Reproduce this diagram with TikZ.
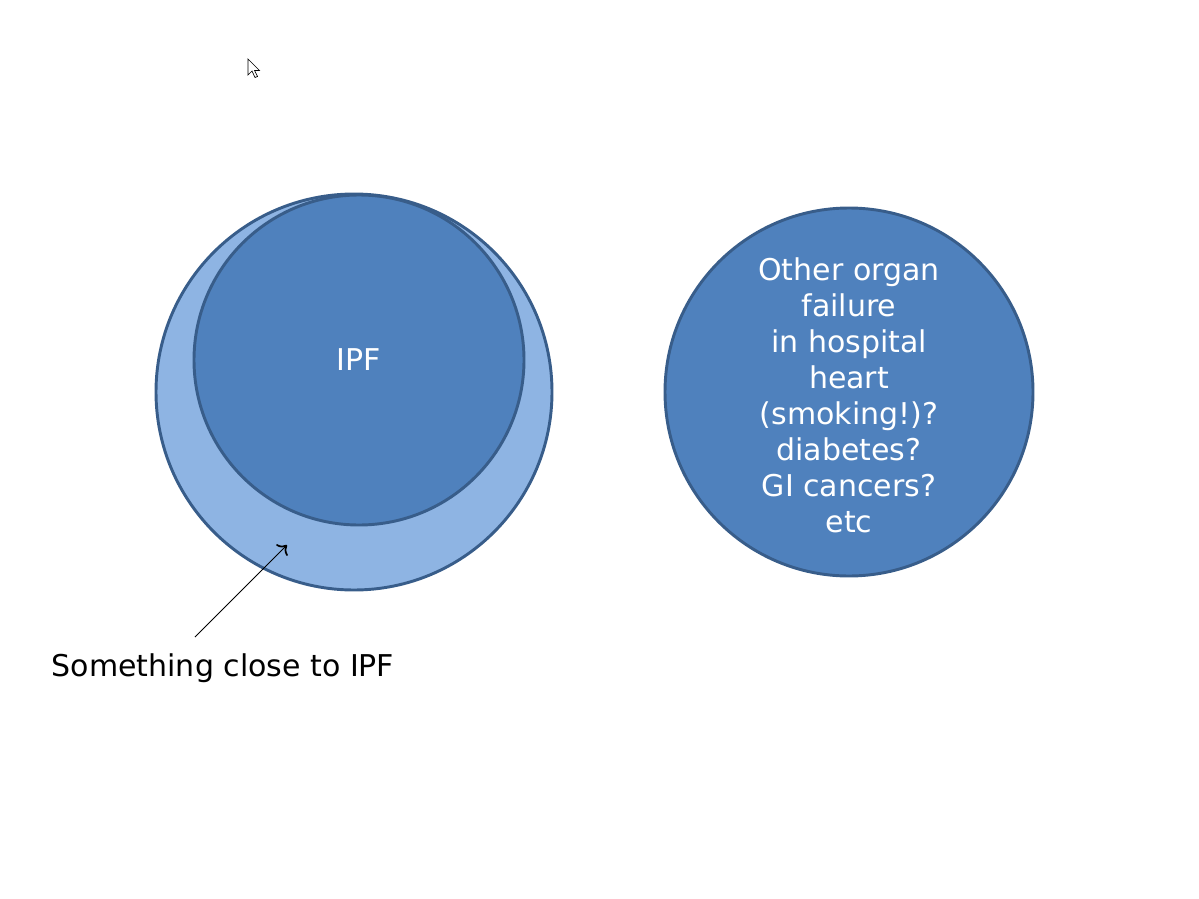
\documentclass[tikz,border=0pt]{standalone}
\usepackage{fontspec}
\setmainfont{DejaVu Sans}
\usetikzlibrary{arrows.meta}
\definecolor{dkfill}{HTML}{4F81BD}
\definecolor{ltfill}{HTML}{8EB4E3}
\definecolor{edge}{HTML}{385D8A}
\begin{document}
\begin{tikzpicture}[x=0.75pt,y=-0.75pt,
  bubble/.style={circle,draw=edge,line width=2.2pt,inner sep=0pt,text=white,align=center,font=\fontsize{22.5}{27}\selectfont},
  lbl/.style={font=\fontsize{22.5}{27}\selectfont,inner sep=0pt}]
\useasboundingbox (0,0) rectangle (1199,899);
\node[bubble,fill=ltfill,minimum size=396*0.75pt] (outer) at (354,392) {};
\node[bubble,fill=dkfill,minimum size=330*0.75pt] (ipf) at (359,360) {IPF};
\node[bubble,fill=dkfill,minimum size=368*0.75pt] (other) at (849,392) {};
\node[text=white,align=center,inner sep=0pt,font=\fontsize{22.5}{27}\selectfont] (othertext) at (849,395) {Other organ\\failure\\in hospital\\heart\\(smoking!)?\\diabetes?\\GI cancers?\\etc};
\node[lbl,anchor=base] (close) at (223,676) {Something close to IPF};
\coordinate (s) at (195,637);
\coordinate (t) at (287,545);
\draw[-{To[length=6pt,width=12pt,line width=1.3pt]},line width=0.75pt] (s) -- (t);
% cursor
\draw[fill=white,line width=0.5pt,line join=miter] (248,59) -- (248,75) -- (252,71) -- (255,77.5) -- (257.5,76.5) -- (254.5,70.5) -- (259.5,70.5) -- cycle;
\end{tikzpicture}
\end{document}
